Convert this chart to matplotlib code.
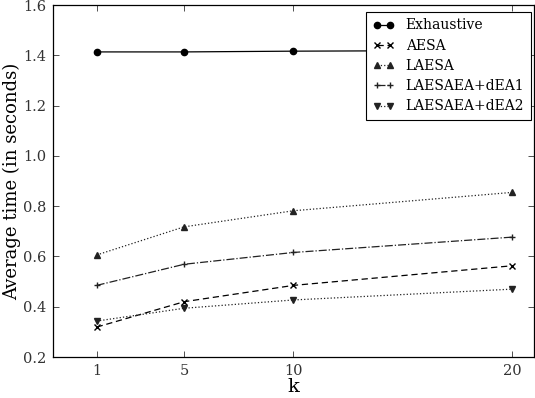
import matplotlib
matplotlib.use('Agg')
from matplotlib import pyplot as plt

k_values = [1, 5, 10, 20]
exhaustive = [1.414, 1.414, 1.417, 1.42]
aesa = [0.319, 0.420, 0.485, 0.563]
laesa = [0.606, 0.718, 0.782, 0.855]
laesaea_dea1 = [0.485, 0.569, 0.616, 0.677]
laesaea_dea2 = [0.343, 0.394, 0.427, 0.470]

plt.rcParams['font.family'] = 'DejaVu Serif'

def plot_data():
    fig = plt.figure(figsize=(5.35, 3.98), dpi=100)
    ax = fig.add_axes([0.099, 0.103, 0.899, 0.884])

    ax.plot(k_values, exhaustive, 'o-', color='black', lw=0.9, ms=4.5, label='Exhaustive')
    ax.plot(k_values, aesa, 'x--', color='black', lw=0.9, ms=4, dashes=(5, 3), label='AESA')
    ax.plot(k_values, laesa, '^:', color='#222222', lw=0.9, ms=4.5, label='LAESA')
    ax.plot(k_values, laesaea_dea1, '+-.', color='#222222', lw=0.9, ms=5, label='LAESAEA+dEA1')
    ax.plot(k_values, laesaea_dea2, 'v:', color='#222222', lw=0.9, ms=4.5, label='LAESAEA+dEA2')

    ax.set_xlim(-1, 21)
    ax.set_ylim(0.2, 1.6)
    ax.set_xticks(k_values)
    ax.set_yticks([0.2, 0.4, 0.6, 0.8, 1.0, 1.2, 1.4, 1.6])
    ax.set_yticklabels(['0.2', '0.4', '0.6', '0.8', '1.0', '1.2', '1.4', '1.6'])
    ax.tick_params(direction='in', top=True, right=True, labelsize=10.5, length=4, width=0.6,
                   colors='#333333', pad=5)
    for s in ax.spines.values():
        s.set_linewidth(0.9)
    ax.set_xlabel('k', fontsize=14, labelpad=0)
    ax.set_ylabel('Average time (in seconds)', fontsize=13, labelpad=1)

    leg = ax.legend(loc='upper right', numpoints=2, handlelength=1.6, fontsize=10,
                    fancybox=False, edgecolor='black', framealpha=1, borderaxespad=0,
                    borderpad=0.45, labelspacing=0.45, bbox_to_anchor=(0.993, 0.98))
    leg.get_frame().set_linewidth(0.8)

    fig.savefig('out.png', dpi=100)

def main():
    plot_data()

main()
